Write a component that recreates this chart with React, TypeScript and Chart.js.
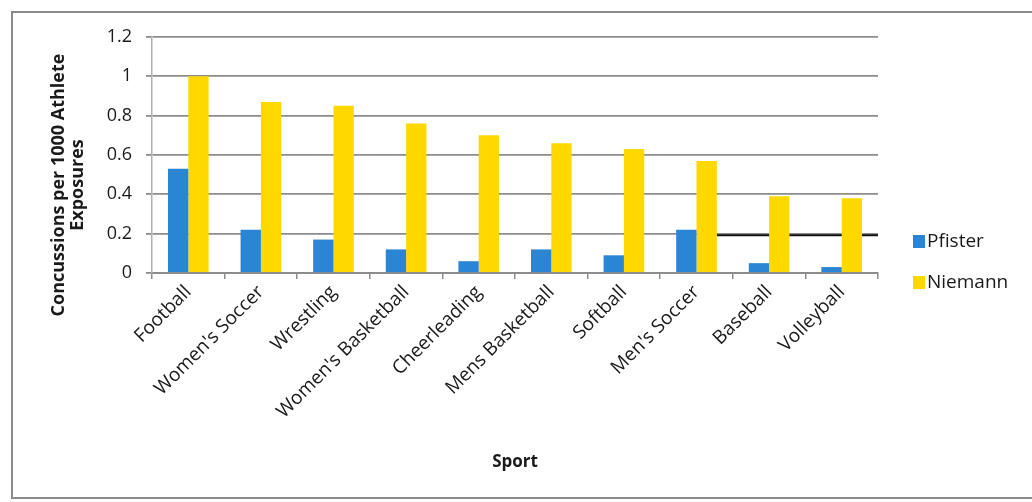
import React, { useEffect, useRef } from "react";
import { Chart, registerables } from "chart.js";

Chart.register(...registerables);

const categories = [
  "Football",
  "Women's Soccer",
  "Wrestling",
  "Women's Basketball",
  "Cheerleading",
  "Mens Basketball",
  "Softball",
  "Men's Soccer",
  "Baseball",
  "Volleyball",
];
const pfister = [0.53, 0.22, 0.17, 0.12, 0.06, 0.12, 0.09, 0.22, 0.05, 0.03];
const niemann = [1.0, 0.87, 0.85, 0.76, 0.7, 0.66, 0.63, 0.57, 0.39, 0.38];
const seriesNames = ["Pfister", "Niemann"];
const seriesColors = ["#2A85D4", "#FFD800"];
const yTitleLines = ["Concussions per 1000 Athlete", "Exposures"];
const xTitle = "Sport";
const strayLineValue = 0.192;
const strayLineFromIndex = 7;

const FONT = "'Open Sans', 'Liberation Sans', sans-serif";

const extrasPlugin = {
  id: "extras",
  beforeDatasetsDraw(chart: any) {
    const { ctx, chartArea, scales } = chart;
    const x = scales.x;
    const y = scales.y;
    const step = x.getPixelForValue(1) - x.getPixelForValue(0);
    const xs = x.getPixelForValue(strayLineFromIndex) + step * 0.28;
    const yy = y.getPixelForValue(strayLineValue);
    ctx.save();
    ctx.strokeStyle = "#111";
    ctx.lineWidth = 2;
    ctx.beginPath();
    ctx.moveTo(xs, yy);
    ctx.lineTo(chartArea.right, yy);
    ctx.stroke();
    ctx.restore();
  },
  afterDraw(chart: any) {
    const { ctx, chartArea } = chart;
    ctx.save();
    // y axis title
    ctx.fillStyle = "#1a1a1a";
    ctx.font = `bold 18px ${FONT}`;
    ctx.textAlign = "center";
    ctx.textBaseline = "middle";
    const cy = (chartArea.top + chartArea.bottom) / 2 + 30;
    yTitleLines.forEach((line, i) => {
      ctx.save();
      ctx.translate(chartArea.left - 93 + i * 19, cy);
      ctx.rotate(-Math.PI / 2);
      ctx.fillText(line, 0, 0);
      ctx.restore();
    });
    // legend
    ctx.font = `19px ${FONT}`;
    ctx.textAlign = "left";
    const lx = chartArea.right + 35;
    const ly = [chartArea.bottom - 32, chartArea.bottom + 9];
    seriesNames.forEach((name, i) => {
      ctx.fillStyle = seriesColors[i];
      ctx.fillRect(lx, ly[i] - 6, 12, 13);
      ctx.fillStyle = "#1a1a1a";
      ctx.fillText(name, lx + 14, ly[i] + 1);
    });
    ctx.restore();
  },
};

export default function App() {
  const canvasRef = useRef<HTMLCanvasElement | null>(null);

  useEffect(() => {
    if (!canvasRef.current) return;
    const chart = new Chart(canvasRef.current, {
      type: "bar",
      data: {
        labels: categories,
        datasets: [
          {
            label: seriesNames[0],
            data: pfister,
            backgroundColor: seriesColors[0],
            categoryPercentage: 0.56,
            barPercentage: 1,
          },
          {
            label: seriesNames[1],
            data: niemann,
            backgroundColor: seriesColors[1],
            categoryPercentage: 0.56,
            barPercentage: 1,
          },
        ],
      },
      options: {
        responsive: false,
        animation: false,
        layout: { padding: { left: 0, right: 154, top: 37, bottom: 0 } },
        plugins: {
          legend: { display: false },
          tooltip: { enabled: false },
        },
        scales: {
          x: {
            grid: {
              drawOnChartArea: false,
              offset: true,
              tickLength: 6,
              color: "#8c8c8c",
              lineWidth: 1.5,
            },
            border: { display: true, color: "#8c8c8c", width: 2 },
            ticks: {
              font: { family: FONT, size: 19 },
              color: "#1a1a1a",
              minRotation: 45,
              maxRotation: 45,
              autoSkip: false,
              padding: 2,
            },
            title: {
              display: true,
              text: xTitle,
              font: { family: FONT, size: 17, weight: "bold" },
              color: "#1a1a1a",
              padding: { top: 4, bottom: 30 },
            },
            afterFit(scale: any) {
              scale.height = 229;
            },
          },
          y: {
            min: 0,
            max: 1.2,
            ticks: {
              stepSize: 0.2,
              font: { family: FONT, size: 18 },
              color: "#1a1a1a",
              padding: 14,
              callback: (v: any) => String(parseFloat(Number(v).toFixed(1))),
            },
            grid: {
              color: "#8c8c8c",
              lineWidth: 1.8,
              tickLength: 6,
            },
            border: { display: true, color: "#b0b0b0", width: 1.5 },
            afterFit(scale: any) {
              scale.width = 152;
            },
          },
        },
      },
      plugins: [extrasPlugin],
    });
    return () => chart.destroy();
  }, []);

  return (
    <div
      style={{
        position: "fixed",
        left: 0,
        top: 0,
        width: 1032,
        height: 502,
        background: "#fff",
      }}
    >
      <div
        style={{
          position: "absolute",
          left: 11,
          top: 11,
          width: 1021,
          height: 488,
          borderTop: "2px solid #8a8a8a",
          borderLeft: "2px solid #8a8a8a",
          borderBottom: "2px solid #8a8a8a",
          boxSizing: "border-box",
        }}
      />
      <canvas
        ref={canvasRef}
        width={1032}
        height={502}
        style={{ position: "absolute", left: 0, top: 0 }}
      />
    </div>
  );
}
